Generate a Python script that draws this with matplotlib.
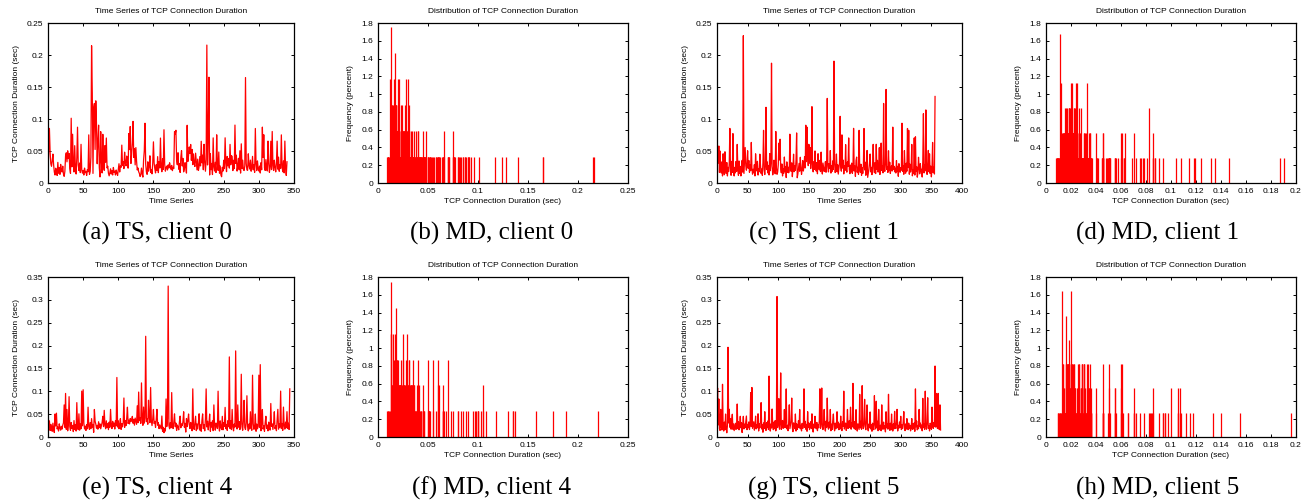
import numpy as np
import matplotlib
matplotlib.use("Agg")
import matplotlib.pyplot as plt
from matplotlib.ticker import FuncFormatter, MultipleLocator

# TCP connection durations, in units of 0.1 ms (value / 10000 = seconds)
ts_client0 = [
    152, 521, 853, 482, 301, 262, 348, 452, 283, 172,
    125, 231, 183, 118, 322, 153, 241, 135, 291, 210,
    172, 263, 140, 104, 181, 423, 472, 331, 503, 382,
    461, 225, 150, 1012, 253, 762, 301, 172, 583, 236,
    140, 392, 872, 283, 195, 312, 162, 604, 202, 154,
    198, 125, 233, 162, 181, 118, 210, 175, 752, 135,
    183, 402, 2145, 1402, 150, 1172, 1243, 524, 1284, 912,
    301, 663, 904, 241, 95, 802, 343, 157, 761, 292,
    198, 584, 325, 703, 236, 262, 152, 112, 162, 221,
    140, 193, 125, 243, 165, 184, 125, 203, 154, 118,
    210, 301, 172, 265, 245, 592, 272, 334, 225, 482,
    313, 268, 421, 336, 232, 773, 522, 883, 305, 452,
    624, 963, 400, 535, 283, 553, 342, 204, 235, 176,
    150, 102, 125, 233, 145, 92, 361, 502, 934, 294,
    172, 135, 331, 185, 253, 425, 165, 206, 143, 305,
    643, 314, 222, 157, 286, 198, 412, 162, 333, 237,
    702, 255, 176, 382, 213, 832, 296, 185, 244, 264,
    203, 283, 234, 316, 256, 214, 275, 193, 246, 227,
    803, 764, 824, 352, 285, 473, 215, 302, 165, 400,
    506, 266, 385, 174, 223, 318, 247, 155, 902, 336,
    432, 563, 464, 602, 354, 525, 287, 455, 304, 258,
    466, 337, 205, 373, 196, 257, 413, 267, 652, 315,
    436, 207, 605, 338, 184, 364, 2155, 282, 704, 1653,
    125, 457, 208, 306, 132, 705, 254, 187, 324, 163,
    753, 303, 197, 484, 153, 266, 126, 98, 245, 186,
    356, 224, 706, 314, 177, 415, 268, 384, 233, 603,
    284, 427, 414, 194, 355, 226, 905, 307, 435, 186,
    265, 386, 206, 504, 155, 612, 227, 357, 210, 195,
    267, 1648, 306, 204, 198, 456, 274, 218, 358, 184,
    248, 416, 205, 286, 166, 852, 296, 194, 345, 228,
    187, 265, 156, 317, 207, 873, 402, 754, 236, 196,
    366, 229, 188, 655, 308, 167, 256, 653, 209, 805,
    276, 195, 357, 248, 174, 306, 654, 216, 404, 183,
    287, 228, 752, 257, 176, 346, 158, 655, 238, 118,
    332,
]

ts_client1 = [
    183, 557, 311, 578, 164, 499, 222, 156, 330, 110,
    457, 200, 129, 488, 263, 147, 320, 110, 244, 179,
    302, 853, 217, 120, 338, 166, 772, 209, 110, 245,
    158, 336, 180, 603, 227, 119, 344, 148, 260, 110,
    206, 353, 170, 2302, 149, 337, 555, 268, 200, 313,
    504, 229, 351, 167, 280, 193, 634, 240, 138, 215,
    160, 287, 110, 456, 250, 188, 339, 124, 218, 176,
    451, 279, 150, 220, 120, 316, 823, 207, 132, 269,
    1183, 210, 330, 157, 274, 125, 459, 192, 318, 1872,
    260, 127, 189, 357, 210, 143, 805, 240, 136, 170,
    284, 623, 359, 684, 220, 160, 298, 110, 219, 152,
    406, 185, 258, 85, 330, 165, 249, 159, 200, 763,
    264, 182, 315, 99, 228, 450, 177, 266, 197, 356,
    782, 82, 141, 223, 307, 184, 402, 250, 134, 216,
    350, 187, 262, 412, 235, 903, 333, 872, 454, 271,
    604, 310, 553, 226, 367, 1193, 288, 174, 332, 214,
    501, 250, 186, 319, 144, 458, 280, 205, 354, 178,
    483, 224, 140, 312, 250, 180, 225, 335, 168, 292,
    1322, 248, 173, 303, 229, 507, 155, 267, 182, 345,
    210, 1904, 306, 163, 247, 453, 175, 285, 139, 227,
    314, 1042, 265, 185, 752, 233, 358, 142, 273, 196,
    600, 228, 169, 330, 259, 704, 213, 145, 280, 172,
    311, 150, 223, 854, 189, 265, 102, 352, 405, 167,
    246, 135, 823, 218, 164, 294, 120, 237, 150, 276,
    852, 204, 326, 120, 183, 508, 88, 154, 210, 319,
    453, 173, 244, 131, 286, 604, 225, 161, 317, 147,
    605, 213, 354, 170, 239, 552, 133, 289, 624, 195,
    263, 158, 1243, 220, 182, 300, 1462, 212, 256, 165,
    503, 191, 324, 149, 236, 272, 187, 873, 214, 262,
    175, 232, 156, 351, 186, 260, 105, 302, 216, 168,
    240, 200, 934, 180, 268, 136, 505, 227, 153, 309,
    184, 852, 240, 823, 137, 295, 171, 229, 603, 112,
    208, 146, 704, 124, 722, 186, 254, 91, 160, 402,
    234, 142, 303, 174, 215, 93, 344, 1083, 157, 283,
    189, 1142, 221, 134, 301, 509, 176, 456, 148, 264,
    96, 217, 634, 162, 245, 140, 1352,
]

ts_client4 = [
    653, 204, 352, 142, 276, 185, 125, 303, 164, 98,
    503, 241, 522, 177, 219, 130, 288, 196, 150, 234,
    173, 257, 309, 702, 211, 953, 168, 603, 135, 281,
    882, 225, 146, 317, 189, 254, 118, 359, 163, 273,
    130, 752, 226, 160, 507, 150, 284, 180, 1003, 245,
    1034, 302, 176, 238, 143, 269, 180, 652, 224, 167,
    315, 182, 402, 216, 274, 102, 602, 346, 283, 192,
    256, 171, 334, 205, 287, 179, 246, 318, 453, 227,
    583, 265, 180, 354, 206, 289, 161, 325, 212, 604,
    275, 184, 343, 229, 306, 174, 357, 243, 1302, 218,
    355, 180, 270, 402, 166, 293, 222, 316, 853, 209,
    356, 250, 413, 652, 294, 368, 286, 405, 337, 382,
    451, 301, 386, 259, 414, 345, 276, 683, 312, 983,
    358, 425, 297, 1183, 381, 255, 655, 304, 417, 2203,
    335, 400, 278, 804, 426, 313, 1083, 365, 250, 389,
    603, 295, 341, 210, 386, 605, 257, 314, 183, 264,
    223, 178, 459, 125, 213, 94, 186, 130, 832, 228,
    403, 3302, 250, 180, 316, 201, 972, 245, 185, 326,
    506, 226, 305, 143, 262, 221, 156, 334, 457, 202,
    286, 248, 335, 552, 214, 298, 108, 405, 227, 354,
    503, 272, 184, 319, 246, 136, 1053, 224, 165, 306,
    454, 139, 286, 174, 312, 508, 150, 267, 125, 356,
    505, 182, 273, 134, 402, 1052, 219, 345, 156, 287,
    502, 125, 314, 216, 353, 138, 702, 250, 149, 305,
    264, 185, 1002, 236, 130, 353, 204, 163, 452, 157,
    314, 229, 648, 183, 275, 145, 358, 225, 1752, 184,
    351, 162, 603, 220, 134, 283, 217, 1883, 256, 174,
    702, 215, 337, 162, 280, 1373, 226, 147, 352, 803,
    204, 163, 308, 902, 223, 134, 285, 175, 552, 211,
    146, 1352, 289, 168, 234, 503, 125, 283, 179, 232,
    1353, 207, 1583, 135, 285, 602, 174, 246, 125, 312,
    453, 186, 261, 134, 325, 205, 150, 733, 231, 288,
    165, 304, 552, 182, 243, 137, 354, 605, 172, 286,
    214, 1004, 183, 296, 145, 654, 239, 172, 326, 203,
    554, 186, 303, 164, 1053,
]

ts_client5 = [
    503, 1072, 264, 832, 181, 143, 604, 225, 154, 1153,
    219, 130, 326, 161, 502, 188, 92, 247, 1963, 306,
    607, 213, 403, 170, 357, 498, 168, 285, 139, 224,
    301, 165, 252, 722, 183, 335, 157, 269, 453, 200,
    312, 98, 258, 452, 176, 281, 205, 324, 459, 160,
    276, 203, 330, 163, 284, 972, 228, 1083, 187, 261,
    334, 150, 243, 456, 177, 265, 201, 508, 131, 289,
    200, 356, 752, 174, 267, 104, 308, 185, 553, 222,
    142, 314, 207, 351, 163, 1333, 229, 130, 286, 197,
    613, 244, 160, 327, 180, 359, 134, 252, 3073, 206,
    325, 838, 171, 293, 1402, 166, 248, 362, 189, 264,
    602, 204, 335, 1052, 178, 256, 137, 302, 704, 183,
    265, 345, 852, 203, 117, 309, 255, 182, 503, 130,
    287, 165, 221, 358, 205, 602, 179, 254, 133, 300,
    186, 261, 1053, 209, 344, 169, 276, 125, 553, 215,
    305, 161, 250, 339, 184, 507, 225, 108, 283, 200,
    453, 244, 179, 320, 138, 265, 202, 354, 1054, 187,
    304, 1072, 227, 163, 286, 603, 211, 130, 345, 208,
    852, 268, 172, 325, 200, 602, 136, 281, 165, 354,
    503, 223, 135, 304, 178, 262, 552, 201, 326, 160,
    285, 174, 457, 205, 139, 334, 226, 1003, 175, 257,
    305, 143, 229, 603, 186, 260, 356, 204, 652, 171,
    306, 220, 1173, 254, 184, 335, 162, 598, 218, 130,
    289, 225, 164, 933, 200, 343, 170, 1123, 251, 182,
    297, 824, 228, 159, 354, 702, 189, 135, 284, 203,
    548, 175, 266, 126, 303, 214, 160, 904, 288, 176,
    782, 212, 344, 137, 604, 221, 158, 258, 136, 703,
    214, 168, 326, 181, 245, 112, 552, 200, 285, 172,
    934, 222, 147, 301, 152, 502, 216, 130, 287, 178,
    561, 246, 185, 311, 605, 132, 254, 193, 329, 209,
    453, 162, 264, 183, 328, 555, 214, 139, 286, 172,
    402, 224, 160, 304, 187, 257, 134, 201, 403, 169,
    284, 176, 308, 124, 1052, 219, 349, 156, 253, 180,
    604, 226, 305, 191, 259, 135, 846, 204, 282, 164,
    1003, 234, 170, 306, 858, 186, 249, 133, 302, 241,
    167, 654, 262, 188, 316, 226, 1553, 217, 953, 279,
    186, 954, 216, 161, 703, 153,
]

clients = ["0", "1", "4", "5"]
series = [ts_client0, ts_client1, ts_client4, ts_client5]
ts_ylims = [0.25, 0.25, 0.35, 0.35]
ts_xlims = [350, 400, 350, 400]
md_xlims = [0.25, 0.2, 0.25, 0.2]
md_xsteps = [0.05, 0.02, 0.05, 0.02]
letters = ["a", "b", "c", "d", "e", "f", "g", "h"]

W, H = 1307, 503
fig = plt.figure(figsize=(W / 100, H / 100), dpi=100)

SANS = "Liberation Sans"
SERIF = "Liberation Serif"
RED = "#ff0000"
fmt = FuncFormatter(lambda v, p: "%g" % round(v, 6))

col_left = [48, 378, 717, 1046]
col_right = [294, 628, 962, 1296]
row_top = [23, 277]
row_bot = [183, 437]
cap_x = [157, 492, 824, 1158]
cap_y = [233, 488]


def style(ax):
    ax.tick_params(direction="in", top=True, right=True, length=2, width=0.7,
                   labelsize=6, pad=3.5, colors="black")
    for lab in ax.get_xticklabels() + ax.get_yticklabels():
        lab.set_fontfamily(SANS)
    for s in ax.spines.values():
        s.set_linewidth(0.9)
    ax.xaxis.set_major_formatter(fmt)
    ax.yaxis.set_major_formatter(fmt)


for i, (cl, vals) in enumerate(zip(clients, series)):
    row = i // 2
    c_ts = (i % 2) * 2
    c_md = c_ts + 1
    y = np.array(vals) / 10000.0
    n = len(y)

    # time series panel
    l, r = col_left[c_ts], col_right[c_ts]
    ax = fig.add_axes([l / W, 1 - row_bot[row] / H, (r - l) / W,
                       (row_bot[row] - row_top[row]) / H])
    ax.plot(np.arange(n), y, color=RED, lw=0.9)
    ax.set_xlim(0, ts_xlims[i])
    ax.set_ylim(0, ts_ylims[i])
    ax.xaxis.set_major_locator(MultipleLocator(50))
    ax.yaxis.set_major_locator(MultipleLocator(0.05))
    style(ax)
    ax.set_title("Time Series of TCP Connection Duration", fontsize=6,
                 family=SANS, pad=7)
    ax.set_xlabel("Time Series", fontsize=6, family=SANS, labelpad=2)
    ax.set_ylabel("TCP Connection Duration (sec)", fontsize=6, family=SANS,
                  labelpad=5)
    fig.text(cap_x[c_ts] / W, 1 - cap_y[row] / H,
             "(%s) TS, client %s" % (letters[row * 4 + c_ts], cl),
             family=SERIF, fontsize=18, ha="center", va="center")

    # distribution panel: percentage of connections with each duration
    u, cnt = np.unique(np.array(vals), return_counts=True)
    freq = cnt / n * 100.0
    l, r = col_left[c_md], col_right[c_md]
    ax = fig.add_axes([l / W, 1 - row_bot[row] / H, (r - l) / W,
                       (row_bot[row] - row_top[row]) / H])
    ax.vlines(u / 10000.0, 0, freq, color=RED, lw=0.9)
    ax.set_xlim(0, md_xlims[i])
    ax.set_ylim(0, 1.8)
    ax.xaxis.set_major_locator(MultipleLocator(md_xsteps[i]))
    ax.yaxis.set_major_locator(MultipleLocator(0.2))
    style(ax)
    ax.set_title("Distribution of TCP Connection Duration", fontsize=6,
                 family=SANS, pad=7)
    ax.set_xlabel("TCP Connection Duration (sec)", fontsize=6, family=SANS,
                  labelpad=2)
    ax.set_ylabel("Frequency (percent)", fontsize=6, family=SANS, labelpad=5)
    fig.text(cap_x[c_md] / W, 1 - cap_y[row] / H,
             "(%s) MD, client %s" % (letters[row * 4 + c_md], cl),
             family=SERIF, fontsize=18, ha="center", va="center")

fig.savefig("out.png", dpi=100, facecolor="white")
